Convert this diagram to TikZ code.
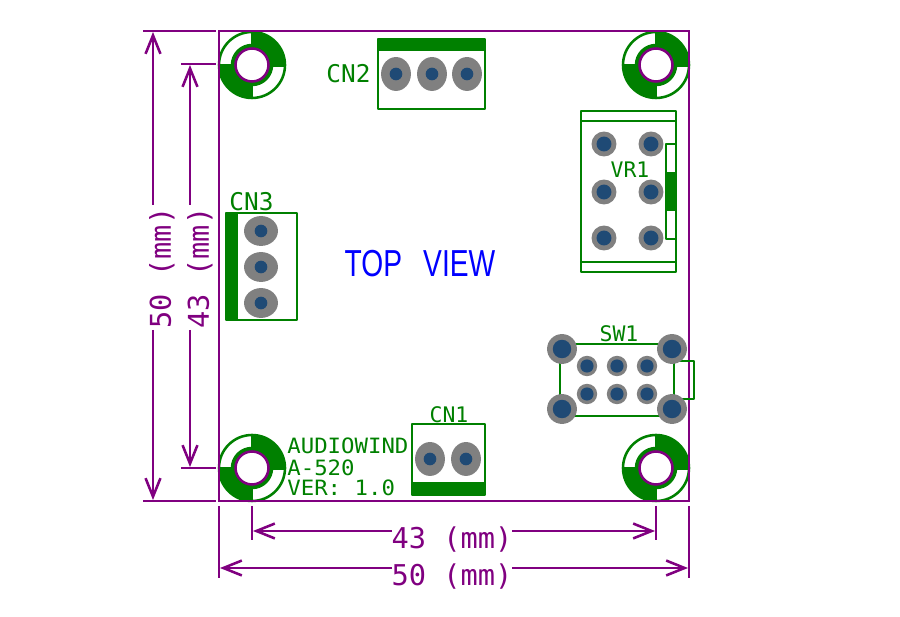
\documentclass[tikz,border=0pt]{standalone}
\usepackage{fontspec}
\setmainfont{DejaVu Sans Mono}
\newfontfamily\viewfont{Liberation Sans}
\usetikzlibrary{arrows.meta}
\usetikzlibrary{shapes.geometric}
\definecolor{pcbgreen}{HTML}{008000}
\definecolor{dimpurple}{HTML}{800080}
\definecolor{padgrey}{HTML}{808080}
\definecolor{padblue}{HTML}{1F4A75}
\tikzset{
	outline/.style={
		draw=pcbgreen,
		line join=round,
	},
	bar/.style={
		fill=pcbgreen,
	},
	edge/.style={
		draw=dimpurple,
	},
	dim/.style={
		draw=dimpurple,
		-{Straight Barb[length=10.5pt,width=8.5pt]},
	},
	dimlabel/.style={
		text=dimpurple,
		font=\fontsize{16.3}{16.3}\selectfont,
		inner sep=0pt,
	},
	partlabel/.style={
		text=pcbgreen,
		font=\fontsize{12.2}{12.2}\selectfont,
		inner sep=0pt,
	},
	partlabelbig/.style={
		partlabel,
		font=\fontsize{13.9}{13.9}\selectfont,
	},
	boardtext/.style={
		text=pcbgreen,
		font=\fontsize{12}{12}\selectfont,
		inner sep=0pt,
		anchor=west,
		xscale=1.06,
		transform shape,
	},
	viewlabel/.style={
		text=blue,
		font=\viewfont\fontsize{21.4}{21.4}\selectfont,
		inner sep=0pt,
		xscale=0.75,
		transform shape,
	},
	pad/.style={
		ellipse,
		fill=padgrey,
		inner sep=0pt,
	},
	padwide/.style={pad,minimum width=17pt,minimum height=19.3pt},
	padtall/.style={pad,minimum width=19.3pt,minimum height=17pt},
	padbig/.style={pad,minimum width=14.2pt,minimum height=14.2pt},
	padcorner/.style={pad,minimum width=17pt,minimum height=17pt},
	padsmall/.style={pad,minimum width=11.6pt,minimum height=11.6pt},
	hole/.style={
		circle,
		fill=padblue,
		inner sep=0pt,
		minimum size=#1,
	},
}

\begin{document}
\begin{tikzpicture}[x=0.02cm,y=-0.02cm,line width=1.45pt]

	\useasboundingbox (0,0) rectangle (900,617);

	% mounting holes
	\foreach \hx/\hy in {252/65,656/65,252/468,656/468} {
		\begin{scope}[shift={(\hx,\hy)}]
			\begin{scope}
				\clip (0,0) circle (33);
				\fill[pcbgreen] (-1,-40) rectangle (40,2);
				\fill[pcbgreen] (-40,-1) rectangle (1,40);
			\end{scope}
			\draw[pcbgreen] (0,0) circle (33);
			\draw[pcbgreen,fill=pcbgreen] (0,0) circle (20);
			\draw[dimpurple,fill=white] (0,0) circle (16.5);
		\end{scope}
	}

	% board edge
	\coordinate (tl) at (219,31);
	\coordinate (br) at (689,501);
	\draw[edge] (tl) rectangle (br);

	% CN2
	\fill[bar] (378,39) rectangle (485,51);
	\draw[outline] (378,39) rectangle (485,109);
	\foreach \n/\px in {a/396,b/432,c/467} {
		\node[padwide] (cn2\n) at (\px,74) {};
		\node[hole=7.2pt] at (cn2\n) {};
	}
	\node[partlabelbig] (cn2) at (348.5,74) {CN2};

	% CN3
	\fill[bar] (226,213) rectangle (238,320);
	\draw[outline] (226,213) rectangle (297,320);
	\foreach \n/\py in {a/231,b/267,c/303} {
		\node[padtall] (cn3\n) at (261,\py) {};
		\node[hole=7.2pt] at (cn3\n) {};
	}
	\node[partlabelbig] (cn3) at (251.5,202) {CN3};

	% CN1
	\fill[bar] (412,482) rectangle (485,495);
	\draw[outline] (412,424) rectangle (485,495);
	\foreach \n/\px in {a/430,b/466} {
		\node[padwide] (cn1\n) at (\px,459) {};
		\node[hole=7.2pt] at (cn1\n) {};
	}
	\node[partlabel] (cn1) at (449,414.5) {CN1};

	% VR1
	\draw[outline] (581,111) rectangle (676,272);
	\draw[outline] (581,121) -- (676,121);
	\draw[outline] (581,262) -- (676,262);
	\fill[bar] (666,172) rectangle (676,211);
	\draw[outline] (666,144) rectangle (676,239);
	\foreach \n/\px/\py in {a/604/144,b/651/144,c/604/192,d/651/192,e/604/238,f/651/238} {
		\node[padbig] (vr\n) at (\px,\py) {};
		\node[hole=8.5pt] at (vr\n) {};
	}
	\node[partlabel] (vr1) at (630,170) {VR1};

	% SW1
	\draw[outline] (560,344) rectangle (674,416);
	\draw[outline] (674,361) rectangle (694,399);
	\foreach \n/\px/\py in {a/562/349,b/672/349,c/562/409,d/672/409} {
		\node[padcorner] (sw\n) at (\px,\py) {};
		\node[hole=10.5pt] at (sw\n) {};
	}
	\foreach \n/\px/\py in {e/587/366,f/617/366,g/647/366,h/587/394,i/617/394,j/647/394} {
		\node[padsmall] (sw\n) at (\px,\py) {};
		\node[hole=7.5pt] at (sw\n) {};
	}
	\node[partlabel] (sw1) at (619,334) {SW1};

	\node[boardtext] (maker) at (286,445.5) {AUDIOWIND};
	\node[boardtext] (model) at (286,467.5) {A-520};
	\node[boardtext] (ver) at (286,487.5) {VER: 1.0};
	\node[viewlabel] (view) at (420,264) {TOP\hspace{10pt} VIEW};

	% dimensions, left
	\coordinate (a1) at (143,31);
	\coordinate (a2) at (216,31);
	\coordinate (a3) at (143,501);
	\coordinate (a4) at (216,501);
	\coordinate (a5) at (181,64);
	\coordinate (a6) at (216,64);
	\coordinate (a7) at (181,468);
	\coordinate (a8) at (216,468);
	\draw[edge] (a1) -- (a2);
	\draw[edge] (a3) -- (a4);
	\draw[edge] (a5) -- (a6);
	\draw[edge] (a7) -- (a8);
	\node[dimlabel,rotate=90] (lab50v) at (162,268) {50 (mm)};
	\node[dimlabel,rotate=90] (lab43v) at (200,268) {43 (mm)};
	\coordinate (a9) at (153,205);
	\coordinate (a10) at (153,32);
	\coordinate (a11) at (153,330);
	\coordinate (a12) at (153,500);
	\coordinate (a13) at (190,205);
	\coordinate (a14) at (190,65);
	\coordinate (a15) at (190,330);
	\coordinate (a16) at (190,467);
	\draw[dim] (a9) -- (a10);
	\draw[dim] (a11) -- (a12);
	\draw[dim] (a13) -- (a14);
	\draw[dim] (a15) -- (a16);

	% dimensions, bottom
	\coordinate (b1) at (219,506);
	\coordinate (b2) at (219,578);
	\coordinate (b3) at (689,506);
	\coordinate (b4) at (689,578);
	\coordinate (b5) at (252,506);
	\coordinate (b6) at (252,540);
	\coordinate (b7) at (656,506);
	\coordinate (b8) at (656,540);
	\draw[edge] (b1) -- (b2);
	\draw[edge] (b3) -- (b4);
	\draw[edge] (b5) -- (b6);
	\draw[edge] (b7) -- (b8);
	\node[dimlabel] (lab43h) at (452,540) {43 (mm)};
	\node[dimlabel] (lab50h) at (452,577) {50 (mm)};
	\coordinate (b9) at (392,531);
	\coordinate (b10) at (253,531);
	\coordinate (b11) at (512,531);
	\coordinate (b12) at (655,531);
	\coordinate (b13) at (392,568);
	\coordinate (b14) at (220,568);
	\coordinate (b15) at (512,568);
	\coordinate (b16) at (688,568);
	\draw[dim] (b9) -- (b10);
	\draw[dim] (b11) -- (b12);
	\draw[dim] (b13) -- (b14);
	\draw[dim] (b15) -- (b16);
\end{tikzpicture}
\end{document}
